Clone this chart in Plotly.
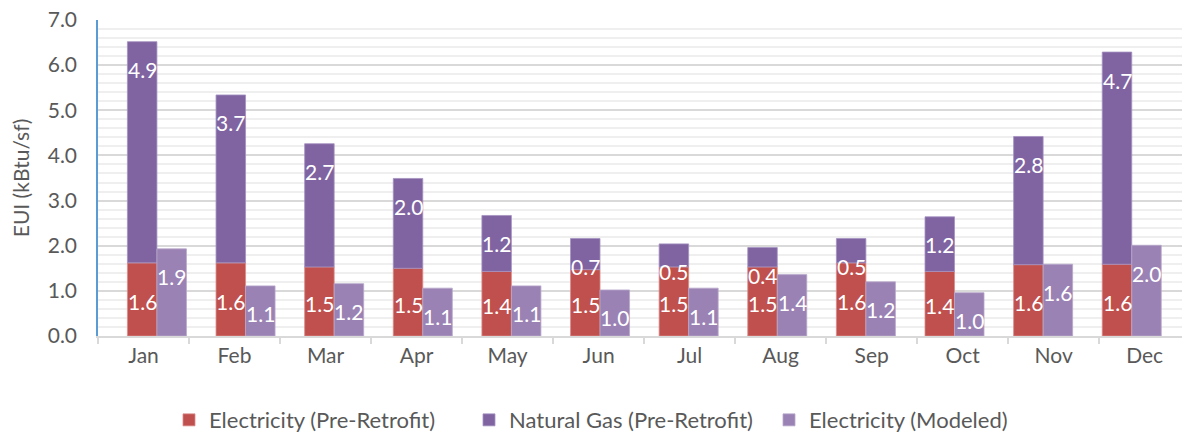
import plotly.graph_objects as go

months = ["Jan", "Feb", "Mar", "Apr", "May", "Jun", "Jul", "Aug", "Sep", "Oct", "Nov", "Dec"]
elec_pre = [1.62, 1.62, 1.53, 1.50, 1.43, 1.47, 1.53, 1.53, 1.62, 1.43, 1.58, 1.59]
gas_pre = [4.90, 3.72, 2.73, 1.99, 1.24, 0.69, 0.51, 0.43, 0.54, 1.21, 2.84, 4.70]
elec_model = [1.93, 1.11, 1.16, 1.06, 1.11, 1.02, 1.06, 1.36, 1.20, 0.96, 1.59, 2.01]
y_ticks = [0, 1, 2, 3, 4, 5, 6, 7]

C_ELEC = "#C0504D"
C_GAS = "#8064A2"
C_MOD = "#9B82B4"
FONT = "Lato"
GREY = "#595959"

W = 0.333
totals = [e + g for e, g in zip(elec_pre, gas_pre)]

fig = go.Figure()
fig.add_trace(go.Bar(name="Electricity (Pre-Retrofit)", x=months, y=elec_pre, width=W, offset=-W,
                     marker=dict(color=C_ELEC, line=dict(color="#D98C8A", width=0.8)), hoverinfo="skip"))
fig.add_trace(go.Bar(name="Natural Gas (Pre-Retrofit)", x=months, y=gas_pre, base=elec_pre, width=W, offset=-W,
                     marker=dict(color=C_GAS, line=dict(color="#A592C0", width=0.8)), hoverinfo="skip"))
fig.add_trace(go.Bar(name="Electricity (Modeled)", x=months, y=elec_model, width=W, offset=0,
                     marker=dict(color=C_MOD, line=dict(color="#B8A8CC", width=0.8)), hoverinfo="skip"))
# category labels axis
fig.add_trace(go.Scatter(x=months, y=[0] * len(months), xaxis="x2", mode="markers",
                         marker=dict(opacity=0), showlegend=False, hoverinfo="skip"))

LBL = dict(color="white", size=21, family=FONT)
ann = []
for i in range(len(months)):
    ann.append(dict(x=i - W / 2, y=elec_pre[i] / 2, xref="x", yref="y", text=f"{elec_pre[i]:.1f}",
                    showarrow=False, yshift=-2, font=LBL))
    ann.append(dict(x=i - W / 2, y=totals[i], xref="x", yref="y", text=f"{gas_pre[i]:.1f}",
                    showarrow=False, yshift=-28, font=LBL))
    ann.append(dict(x=i + W / 2, y=elec_model[i], xref="x", yref="y", text=f"{elec_model[i]:.1f}",
                    showarrow=False, yshift=-28, font=LBL))

fig.update_layout(
    template="none",
    width=1182, height=433,
    margin=dict(l=98, r=0, t=20, b=97, pad=0, autoexpand=False),
    barmode="overlay",
    paper_bgcolor="white", plot_bgcolor="white",
    font=dict(family=FONT, color=GREY),
    annotations=ann,
    xaxis=dict(type="category", range=[-0.665, 11.567], showticklabels=False, ticks="",
               showgrid=False, showline=False, zeroline=False, automargin=False),
    xaxis2=dict(type="category", overlaying="x", side="bottom", range=[-0.5, 11.41],
                tickson="boundaries", ticks="outside", ticklen=6, tickcolor="#D9D9D9", tickwidth=1.5,
                showline=True, linecolor="#D9D9D9", linewidth=1.5, showgrid=False, automargin=False,
                tickfont=dict(size=21, color=GREY, family=FONT)),
    yaxis=dict(range=[0, 7], tickvals=y_ticks, ticktext=[f"{v:.1f}" for v in y_ticks],
               showgrid=True, gridcolor="#D9D9D9", gridwidth=1.5,
               minor=dict(dtick=0.2, showgrid=True, gridcolor="#EFEFEF", gridwidth=1.5),
               showline=True, linecolor="#5B9BD5", linewidth=1.5, zeroline=False,
               ticklabelstandoff=15, ticks="", automargin=False, ticklabeloverflow="allow",
               tickfont=dict(size=21, color=GREY, family=FONT),
               title=dict(text="EUI (kBtu/sf)", font=dict(size=21, color=GREY, family=FONT), standoff=12)),
    legend=dict(orientation="h", x=0.0655, xanchor="left", y=-0.266, yanchor="middle",
                font=dict(size=22, color=GREY, family=FONT), entrywidth=255, entrywidthmode="pixels",
                traceorder="normal", bgcolor="rgba(0,0,0,0)"),
    showlegend=True,
)

fig.write_html("out.html", config={"displayModeBar": False},
               post_script="document.body.style.margin='0';")
